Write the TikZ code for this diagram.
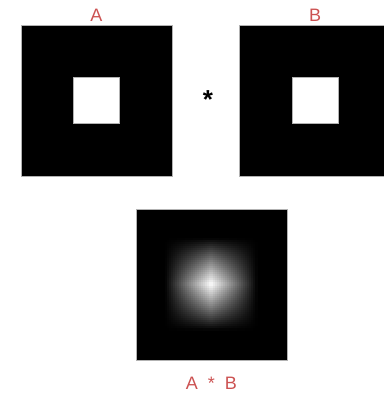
\documentclass[tikz,border=0pt]{standalone}
\usepackage{fontspec}
\setmainfont{Liberation Sans}
\usetikzlibrary{positioning}
\definecolor{labelred}{RGB}{204,82,82}

\begin{document}
\begin{tikzpicture}[x=1pt, y=-1pt, node distance=3pt,
        image/.style={rectangle, draw=gray!60, line width=0.6pt, fill=black, minimum size=151pt, inner sep=0pt},
        hole/.style={rectangle, draw=gray!60, line width=0.6pt, fill=white, minimum size=46pt, inner sep=0pt},
        tag/.style={text=labelred, font=\fontsize{18}{18}\selectfont, inner sep=0pt}]

    \useasboundingbox (0,0) rectangle (383,398);

    \node [image] (sqA) at (96.5,100.5) {};
    \node [hole] (holeA) at (sqA.center) {};
    \node [image, right=67pt of sqA] (sqB) {};
    \node [hole] (holeB) at (sqB.center) {};
    \node [tag, above=of sqA] (tagA) {A};
    \node [tag, above=of sqB] (tagB) {B};
    \node [font=\fontsize{26}{26}\selectfont\bfseries, inner sep=0pt] (star) at (208,100) {*};

    \node [image] (sqAB) at (211.5,284.5) {};
    % A * B: tent times tent
    \begin{scope}[shift={(sqAB.center)}]
        \foreach \i in {-45,-43,...,45} {
            \foreach \j in {-45,-43,...,45} {
                \pgfmathsetmacro\v{100*(1-abs(\i)/46)*(1-abs(\j)/46)}
                \fill [white!\v!black] (\i-1.05,\j-1.05) rectangle (\i+1.05,\j+1.05);
            }
        }
    \end{scope}
    \node [tag, below=17pt of sqAB] (tagAB) {A\ \ *\ \ B};

\end{tikzpicture}
\end{document}
